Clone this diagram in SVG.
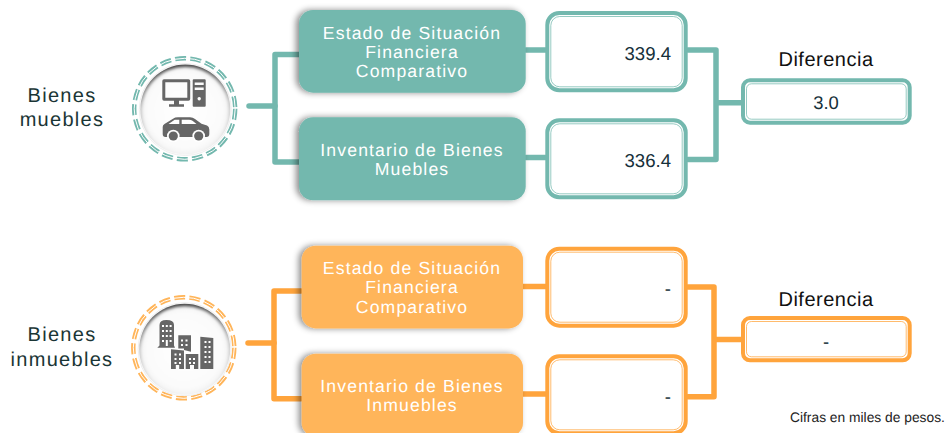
<svg xmlns="http://www.w3.org/2000/svg" width="948" height="433" viewBox="0 0 948 433">
<defs>
<style>
text{font-family:"Liberation Sans",Arial,sans-serif;text-rendering:geometricPrecision}
.lbl{font-size:20px;fill:#1a3535;letter-spacing:1.3px;text-anchor:middle}
.box{font-size:17.6px;fill:#fff;letter-spacing:1.15px;text-anchor:middle}
.val{font-size:18.6px;fill:#16303a;text-anchor:end}
.valc{font-size:18.4px;fill:#16303a;text-anchor:middle}
.dif{font-size:20px;fill:#111;text-anchor:middle;letter-spacing:.5px}
.t{fill:#73b8ae}.o{fill:#ffb55a}
.ts{stroke:#73b8ae}.os{stroke:#ffa43c}
.outer{fill:#fff;stroke-width:4}
.inner{fill:none;stroke-width:1;opacity:.75}
.conn{fill:none;stroke-linejoin:round;stroke-linecap:round;stroke-width:5.500}
.ic{fill:#666}
.w{fill:#fff}
.dash{fill:none;stroke-width:4.400;stroke-dasharray:11 4.200}
.gap{fill:none;stroke:#fff;stroke-width:1}
</style>
<filter id="sh" x="-15%" y="-15%" width="130%" height="130%"><feGaussianBlur in="SourceAlpha" stdDeviation="3"/><feOffset dx="-3" dy="0"/><feColorMatrix values="0 0 0 0 0 0 0 0 0 0 0 0 0 0 0 0 0 0 .45 0"/><feMerge><feMergeNode/><feMergeNode in="SourceGraphic"/></feMerge></filter>
<filter id="soft" x="-10%" y="-10%" width="120%" height="120%"><feGaussianBlur stdDeviation="1.500"/></filter>
<linearGradient id="rim" x1=".45" y1="0" x2=".55" y2="1"><stop offset="0" stop-color="#444"/><stop offset=".45" stop-color="#c4c4c4"/><stop offset="1" stop-color="#f2f2f2"/></linearGradient>
<radialGradient id="face" cx="50%" cy="50%" r="50%"><stop offset="0" stop-color="#fff"/><stop offset=".85" stop-color="#fbfbfb"/><stop offset="1" stop-color="#f4f4f4"/></radialGradient>
</defs>
<g id="connectors">
<g class="conn ts">
<path d="M249 106H275"/>
<path d="M299 54.500H275V162H299"/>
<path d="M526 50H548M526 157.500H548"/>
<path d="M688 50H716V159.500H688M716 102.700H742"/>
</g>
<g class="conn os">
<path d="M248 343H274"/>
<path d="M301 291H274V398.700H301"/>
<path d="M523 286.500H546M523 394H546"/>
<path d="M688 287H714V396.700H688M714 339.500H742"/>
</g>
</g>
<g id="icon-muebles">
<circle cx="184.700" cy="108.800" r="50.500" class="dash ts"/>
<circle cx="184.700" cy="108.800" r="50.500" class="gap"/>
<circle cx="185.300" cy="109.500" r="46" fill="#fff" stroke="#eee" stroke-width="1"/>
<circle cx="185.300" cy="109.500" r="45" fill="url(#rim)"/>
<circle cx="185.300" cy="110.500" r="43.500" fill="url(#face)" filter="url(#soft)"/>
<path class="ic" fill-rule="evenodd" d="M164 79.300h24.500q1.700 0 1.700 1.700v18q0 1.700-1.700 1.700h-9.500v3.500h5v2.500h-15v-2.500h5v-3.500h-10q-1.700 0-1.700-1.700v-18q0-1.700 1.700-1.700zm1.300 3v15.500h22v-15.500z"/>
<path class="ic" fill-rule="evenodd" d="M193.700 79.300h11q1 0 1 1v25.400q0 1-1 1h-11q-1 0-1-1v-25.400q0-1 1-1zm1 3.200v2.500h9v-2.500zm0 5v2.500h9v-2.500zm4.500 9.500a1.700 1.700 0 1 0 .01 0z"/>
<path class="ic" d="M164.500 124L173 118.700Q175 117.300 178 117.300H190Q193 117.300 195 119L201.500 123.800L207 125.500Q209.300 126.500 209.300 129.500V134Q209.300 137 206.500 137H165.500Q162.700 137 162.700 134V127Q162.700 125 164.500 124Z"/>
<path class="w" d="M168.500 124L174.700 119.700H179.300V124ZM181.700 119.700H189Q191 119.700 192.500 120.800L196.500 124H181.700Z"/>
<circle class="w" cx="173.300" cy="136" r="6.300"/><circle class="w" cx="198.700" cy="136" r="6.300"/>
<circle class="ic" cx="173.300" cy="136" r="4.600"/><circle class="ic" cx="198.700" cy="136" r="4.600"/>
</g>
<g id="icon-inmuebles">
<circle cx="183.800" cy="347.800" r="50.500" class="dash" stroke="#ffb55a"/>
<circle cx="183.800" cy="347.800" r="50.500" class="gap"/>
<circle cx="184.700" cy="349.200" r="46.500" fill="#fff" stroke="#eee" stroke-width="1"/>
<circle cx="184.700" cy="349.200" r="45.500" fill="url(#rim)"/>
<circle cx="184.700" cy="350.200" r="44" fill="url(#face)" filter="url(#soft)"/>
<path class="ic" d="M159.500 345.500V325Q159.500 320 166.500 320Q174 320 174 325V345.500L175 347.700H157.300ZM178.300 335.300H191V351.700L184 350V348.500H178.300ZM171 349.300L184 350.500V369H179.200V365H175.800V369H171ZM185.700 354H198.300V369H194V365H190V369H185.700ZM200.300 336.700L213.300 338V369H200.300Z"/>
<path class="w" d="M162 325h2v2h-2zM165.800 325h2v2h-2zM169.600 325h2v2h-2zM162 330h2v2h-2zM165.800 330h2v2h-2zM169.600 330h2v2h-2zM162 335h2v2h-2zM165.800 335h2v2h-2zM169.600 335h2v2h-2zM162 340h2v2h-2zM169.600 340h2v2h-2zM165.800 340h2v6h-2zM181 339.500h2v2h-2zM185.500 339.500h2v2h-2zM181 344h2v2h-2zM185.500 344h2v2h-2zM174.500 353.500h2v2h-2zM179 353.500h2v2h-2zM174.500 358h2v2h-2zM179 358h2v2h-2zM174.500 362h2v2h-2zM179 362h2v2h-2zM189 358h2v2h-2zM193 358h2v2h-2zM189 362h2v2h-2zM193 362h2v2h-2zM204.500 341h2v2h-2zM208.500 341h2v2h-2zM204.500 346h2v2h-2zM208.500 346h2v2h-2zM204.500 351h2v2h-2zM208.500 351h2v2h-2zM204.500 356h2v2h-2zM208.500 356h2v2h-2zM204.500 361h2v2h-2zM208.500 361h2v2h-2z"/>
</g>
<g id="label-muebles"><text class="lbl" x="62" y="101.500">Bienes</text><text class="lbl" x="62" y="126">muebles</text></g>
<g id="label-inmuebles"><text class="lbl" x="62" y="341">Bienes</text><text class="lbl" x="62" y="366">inmuebles</text></g>
<g id="n-esf1"><rect x="299" y="10" width="226.700" height="82.700" rx="14" class="t" filter="url(#sh)"/><text class="box" x="412" y="39.300">Estado de Situación</text><text class="box" x="412" y="58.300">Financiera</text><text class="box" x="412" y="77.300">Comparativo</text></g>
<g id="n-inv1"><rect x="299" y="117.300" width="226.700" height="83" rx="14" class="t" filter="url(#sh)"/><text class="box" x="412" y="155.700">Inventario de Bienes</text><text class="box" x="412" y="175">Muebles</text></g>
<g id="n-esf2"><rect x="301.700" y="245.700" width="221.300" height="82.700" rx="14" class="o" filter="url(#sh)"/><text class="box" x="412" y="274">Estado de Situación</text><text class="box" x="412" y="293.300">Financiera</text><text class="box" x="412" y="313">Comparativo</text></g>
<g id="n-inv2"><rect x="301.700" y="353.700" width="221.300" height="83" rx="14" class="o" filter="url(#sh)"/><text class="box" x="412" y="391.700">Inventario de Bienes</text><text class="box" x="412" y="411">Inmuebles</text></g>
<g id="v1"><rect x="547.300" y="13" width="138.400" height="77.300" rx="12" class="outer ts"/><rect x="550.800" y="16.500" width="131.400" height="70.300" rx="9" class="inner ts"/><text class="val" x="671" y="59.500">339.4</text></g>
<g id="v2"><rect x="547.300" y="120.300" width="138.400" height="77" rx="12" class="outer ts"/><rect x="550.800" y="123.800" width="131.400" height="70" rx="9" class="inner ts"/><text class="val" x="671" y="166.500">336.4</text></g>
<g id="d1"><text class="dif" x="826" y="65.700">Diferencia</text><rect x="743" y="80.300" width="166.700" height="42.400" rx="7" class="outer ts"/><rect x="746.500" y="83.800" width="159.700" height="35.400" rx="5" class="inner ts"/><text class="valc" x="826" y="109">3.0</text></g>
<g id="v3"><rect x="547.300" y="248.700" width="138.400" height="77" rx="12" class="outer os"/><rect x="550.800" y="252.200" width="131.400" height="70" rx="9" class="inner os"/><text class="val" x="671" y="295">-</text></g>
<g id="v4"><rect x="547.300" y="356.300" width="138.400" height="77" rx="12" class="outer os"/><rect x="550.800" y="359.800" width="131.400" height="70" rx="9" class="inner os"/><text class="val" x="671" y="403">-</text></g>
<g id="d2"><text class="dif" x="826" y="306">Diferencia</text><rect x="743" y="318" width="166.700" height="42.300" rx="7" class="outer os"/><rect x="746.500" y="321.500" width="159.700" height="35.300" rx="5" class="inner os"/><text class="valc" x="826" y="348">-</text></g>
<text id="note" x="790" y="421.500" font-size="13.800" fill="#222">Cifras en miles de pesos.</text>
</svg>
